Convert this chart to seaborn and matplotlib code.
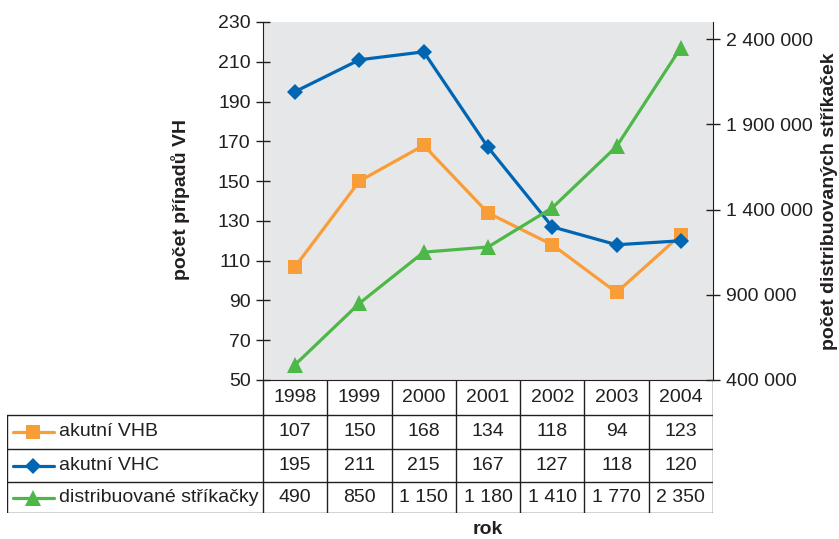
import matplotlib
matplotlib.use("Agg")
import matplotlib.pyplot as plt
import seaborn as sns
import numpy as np
from matplotlib.lines import Line2D
from matplotlib.ticker import FuncFormatter

# data
years = ["1998", "1999", "2000", "2001", "2002", "2003", "2004"]
vhb = [107, 150, 168, 134, 118, 94, 123]
vhc = [195, 211, 215, 167, 127, 118, 120]
strikacky = [490, 850, 1150, 1180, 1410, 1770, 2350]  # v tisicich
series_names = ["akutní VHB", "akutní VHC", "distribuované stříkačky"]

left_ticks = list(range(50, 231, 20))
right_ticks = [400000, 900000, 1400000, 1900000, 2400000]

c_vhb = "#F99D39"
c_vhc = "#0066B3"
c_str = "#4DB848"
c_txt = "#231F20"
c_bg = "#E6E7E8"
FS = 14

sns.set_style("white")
plt.rcParams["font.family"] = ["Liberation Sans", "DejaVu Sans"]

W, H = 839, 539
fig = plt.figure(figsize=(W / 100, H / 100), dpi=100)

# plot area in pixels
L, R, T, B = 263, 713, 22, 380
ax = fig.add_axes([L / W, 1 - B / H, (R - L) / W, (B - T) / H])
ax.set_facecolor(c_bg)

x = np.arange(len(years))
sns.lineplot(x=x, y=vhb, ax=ax, color=c_vhb, linewidth=2.3, marker="s",
             markersize=10, markeredgewidth=0, zorder=3)
sns.lineplot(x=x, y=vhc, ax=ax, color=c_vhc, linewidth=2.3, marker="D",
             markersize=8, markeredgewidth=0, zorder=4)
ax.set_xlim(-0.5, len(years) - 0.5)
ax.set_ylim(50, 230)
ax.set_yticks(left_ticks)
ax.set_xticks([])
ax.set_xlabel("")
for s in ["top", "right"]:
    ax.spines[s].set_visible(False)
ax.spines["left"].set_color(c_txt)
ax.spines["bottom"].set_color(c_txt)
ax.tick_params(axis="y", direction="inout", length=10, width=1, color=c_txt,
               labelsize=FS, labelcolor=c_txt, pad=4)

ax2 = ax.twinx()
ax2.patch.set_visible(False)
sns.lineplot(x=x, y=np.array(strikacky) * 1000, ax=ax2, color=c_str,
             linewidth=2.3, marker="^", markersize=11, markeredgewidth=0)
ax2.set_ylim(400000, 2500000)
ax2.set_yticks(right_ticks)
ax2.yaxis.set_major_formatter(FuncFormatter(lambda v, p: f"{int(v):,}".replace(",", " ")))
for s in ["top", "left", "bottom"]:
    ax2.spines[s].set_visible(False)
ax2.spines["right"].set_color(c_txt)
ax2.tick_params(axis="y", direction="inout", length=10, width=1, color=c_txt,
                labelsize=FS, labelcolor=c_txt, pad=4)

fig.text(181 / W, 1 - 200 / H, "počet případů VH", rotation=90, ha="center",
         va="center", fontsize=FS, fontweight="bold", color=c_txt)
fig.text(829 / W, 1 - 201 / H, "počet distribuovaných stříkaček", rotation=90,
         ha="center", va="center", fontsize=FS, fontweight="bold", color=c_txt)

# table below the plot
TL, TB = 7, 513
tax = fig.add_axes([TL / W, 1 - TB / H, (R - TL) / W, (TB - B) / H])
px_per_unit = (R - L) / len(years)
def px2x(px):
    return -0.5 + (px - L) / px_per_unit
tax.set_xlim(px2x(TL), len(years) - 0.5)
tax.set_ylim(TB, B)
tax.axis("off")

row_y = [B, 415, 449, 482, TB]
lc = dict(color=c_txt, linewidth=1)
# horizontal lines
for yy in row_y[1:]:
    tax.plot([px2x(TL), len(years) - 0.5], [yy, yy], **lc)
# vertical lines
for i in range(len(years) + 1):
    tax.plot([i - 0.5, i - 0.5], [B, TB], **lc)
tax.plot([px2x(TL), px2x(TL)], [row_y[1], TB], **lc)

for i, yr in enumerate(years):
    tax.text(i, (row_y[0] + row_y[1]) / 2, yr, ha="center", va="center",
             fontsize=FS, color=c_txt)

fmt = lambda v: f"{v:,}".replace(",", " ")
rows = [
    (series_names[0], vhb, c_vhb, "s", 10),
    (series_names[1], vhc, c_vhc, "D", 8),
    (series_names[2], strikacky, c_str, "^", 11),
]
for r, (name, vals, col, mk, ms) in enumerate(rows):
    yc = (row_y[r + 1] + row_y[r + 2]) / 2
    tax.add_line(Line2D([px2x(13), px2x(54)], [yc, yc], color=col, linewidth=2.3))
    tax.add_line(Line2D([px2x(33)], [yc], color=col, marker=mk, markersize=ms,
                        markeredgewidth=0, linestyle="none"))
    tax.text(px2x(59), yc, name, ha="left", va="center", fontsize=FS, color=c_txt)
    for i, v in enumerate(vals):
        tax.text(i, yc, fmt(v), ha="center", va="center", fontsize=FS, color=c_txt)

fig.text((L + R) / 2 / W, 1 - 529 / H, "rok", ha="center", va="center",
         fontsize=FS, fontweight="bold", color=c_txt)

fig.savefig("out.png", dpi=100)
